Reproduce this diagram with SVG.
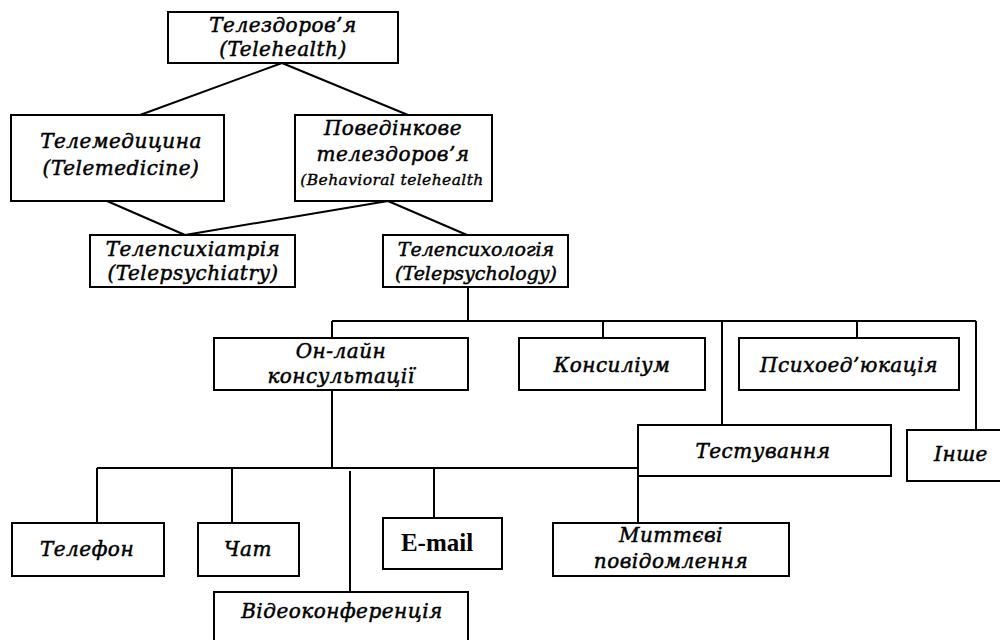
<svg xmlns="http://www.w3.org/2000/svg" width="1000" height="640" viewBox="0 0 1000 640">
<style>
.box{fill:#fff;stroke:#000;stroke-width:2}
.ln{fill:none;stroke:#000;stroke-width:2}
text{font-family:"DejaVu Serif","Liberation Serif",serif;font-style:italic;font-size:20px;letter-spacing:0.5px;fill:#000;stroke:#000;stroke-width:0.5;text-anchor:middle}
.sm{font-size:15.5px;letter-spacing:0.4px;stroke-width:0.4}
.tight{font-size:19px;letter-spacing:0}
.em{font-family:"Liberation Serif",serif;font-style:normal;font-weight:bold;font-size:25px;letter-spacing:0;stroke:none}
</style>
<rect width="1000" height="640" fill="#fff"/>
<g id="connectors">
<path class="ln" d="M282,63 L140,115 M282,63 L408,115"/>
<path class="ln" d="M107,201 L185,235 M388,201 L185,235 M388,201 L467,235"/>
<path class="ln" d="M468,287 V321 M332,321 H976 M332,321 V338 M603,321 V338 M857,321 V338 M722,321 V425 M976,321 V430"/>
<path class="ln" d="M332,390 V468 M97,468 H638 M97,468 V523 M232,468 V523 M350,471 V592 M434,468 V518 M638,476 V523"/>
</g>
<g id="n-telehealth"><rect class="box" x="168" y="12" width="230" height="51"/><text x="283" y="32">Телездоров’я</text><text x="283" y="56">(Telehealth)</text></g>
<g id="n-telemedicine"><rect class="box" x="11" y="115" width="213" height="86"/><text x="121" y="148">Телемедицина</text><text x="121" y="175">(Telemedicine)</text></g>
<g id="n-behavioral"><rect class="box" x="295" y="115" width="197" height="86"/><text x="393" y="135">Поведінкове</text><text x="393" y="161">телездоров’я</text><text class="sm" x="392" y="185">(Behavioral telehealth</text></g>
<g id="n-telepsychiatry"><rect class="box" x="90" y="235" width="205" height="52"/><text x="193" y="256">Телепсихіатрія</text><text x="193" y="280">(Telepsychiatry)</text></g>
<g id="n-telepsychology"><rect class="box" x="383" y="235" width="185" height="52"/><text class="tight" x="476" y="256">Телепсихологія</text><text class="tight" x="476" y="280">(Telepsychology)</text></g>
<g id="n-online"><rect class="box" x="214" y="338" width="254" height="52"/><text x="341" y="358">Он-лайн</text><text x="341" y="383">консультації</text></g>
<g id="n-konsylium"><rect class="box" x="519" y="338" width="186" height="52"/><text x="612" y="372">Консиліум</text></g>
<g id="n-psychoed"><rect class="box" x="739" y="338" width="220" height="52"/><text x="849" y="372">Психоед’юкація</text></g>
<g id="n-testing"><rect class="box" x="638" y="425" width="253" height="51"/><text x="763" y="458">Тестування</text></g>
<g id="n-other"><rect class="box" x="907" y="430" width="110" height="51"/><text x="961" y="461">Інше</text></g>
<g id="n-phone"><rect class="box" x="12" y="523" width="152" height="53"/><text x="87" y="556">Телефон</text></g>
<g id="n-chat"><rect class="box" x="198" y="523" width="101" height="53"/><text x="248" y="556">Чат</text></g>
<g id="n-email"><rect class="box" x="383" y="518" width="119" height="51"/><text class="em" x="437" y="551">E-mail</text></g>
<g id="n-instant"><rect class="box" x="553" y="523" width="236" height="53"/><text x="671" y="542">Миттєві</text><text x="671" y="568">повідомлення</text></g>
<g id="n-video"><rect class="box" x="214" y="592" width="254" height="60"/><text x="342" y="618">Відеоконференція</text></g>
</svg>
